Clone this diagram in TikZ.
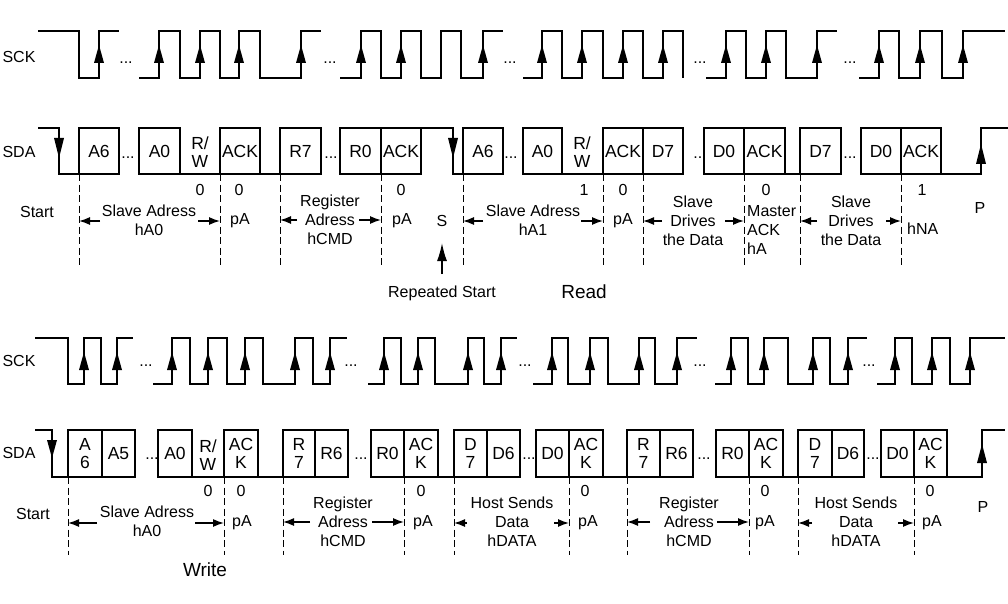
\documentclass[tikz,border=0pt]{standalone}
\usepackage{fontspec}
\setmainfont{Liberation Sans}
\usetikzlibrary{arrows.meta}
\newcommand\dbox[4]{%
  \draw[wave] (#2,\yt) rectangle (#3,\yb);
  \node[bt] (#1) at ({(#2+#3)/2},{(\yt+\yb)/2}) {#4};}
\begin{document}
\begin{tikzpicture}[x=1pt,y=-1pt,
  wave/.style={line width=2pt},
  dsh/.style={line width=1pt, dash pattern=on 7pt off 3.5pt},
  lab/.style={font=\fontsize{16}{19}\selectfont, inner sep=0pt, align=center},
  big/.style={font=\fontsize{19}{22}\selectfont, inner sep=0pt},
  bt/.style={font=\fontsize{17.5}{18.5}\selectfont, inner sep=0pt, align=center},
  dots/.style={font=\fontsize{16}{19}\selectfont, inner sep=0pt},
  dim/.style={-{Latex[length=11pt,width=8pt]}, line width=1.4pt},
]
\useasboundingbox (0,0) rectangle (1008,604);
\fill[white] (0,0) rectangle (1008,604);

% ================= TOP (Read) =================
\node[lab] (sck1) at (19,57) {SCK};
\node[lab] (sda1) at (19,152) {SDA};

% SCK top: H=31, L=78
\draw[wave] (38,31) -- (79,31) -- (79,78) -- (99,78) -- (99,31) -- (119,31);
\draw[wave] (139,78) -- (159,78) -- (159,31) -- (180,31) -- (180,78) -- (200,78) -- (200,31) -- (220,31) -- (220,78) -- (239,78) -- (239,31) -- (260,31) -- (260,78) -- (301,78) -- (301,31) -- (321,31);
\draw[wave] (340,78) -- (361,78) -- (361,31) -- (381,31) -- (381,78) -- (401,78) -- (401,31) -- (421,31) -- (421,78) -- (441,78) -- (441,31) -- (461,31) -- (461,78) -- (483,78) -- (483,31) -- (503,31);
\draw[wave] (523,78) -- (542,78) -- (542,31) -- (562,31) -- (562,78) -- (582,78) -- (582,31) -- (603,31) -- (603,78) -- (623,78) -- (623,31) -- (643,31) -- (643,78) -- (663,78) -- (663,31) -- (683,31) -- (683,78);
\draw[wave] (706,78) -- (726,78) -- (726,31) -- (746,31) -- (746,78) -- (766,78) -- (766,31) -- (786,31) -- (786,78) -- (817,78) -- (817,31) -- (837,31);
\draw[wave] (859,78) -- (879,78) -- (879,31) -- (899,31) -- (899,78) -- (920,78) -- (920,31) -- (942,31) -- (942,78) -- (963,78) -- (963,31) -- (1005,31);
\foreach \x in {99,159,200,239,301,361,401,483,542,582,623,663,726,766,817,879,920,963}
  \fill (\x,45) -- (\x-5,63) -- (\x+5,63) -- cycle;
\foreach \x/\n in {126/1,330/2,510/3,700/4,850/5}
  \node[dots] (tckd\n) at (\x,63) {...};

% SDA top: H=128, L=174
\def\yt{128}\def\yb{174}
\draw[wave] (38,128) -- (59,128) -- (59,174) -- (79,174);
\dbox{ta6}{79}{119}{A6}
\dbox{ta0}{139}{180}{A0}
\draw[wave] (180,174) -- (220,174);
\node[bt] (trw1) at (200,152) {R/\\W};
\dbox{tack1}{220}{260}{ACK}
\draw[wave] (260,174) -- (280,174);
\dbox{tr7}{280}{321}{R7}
\dbox{tr0}{340}{381}{R0}
\dbox{tack2}{381}{421}{ACK}
\draw[wave] (421,128) -- (453,128) -- (453,174) -- (463,174);
\dbox{ta6b}{463}{503}{A6}
\dbox{ta0b}{523}{562}{A0}
\draw[wave] (562,174) -- (603,174);
\node[bt] (trw2) at (582,152) {R/\\W};
\dbox{tack3}{603}{643}{ACK}
\dbox{td7}{643}{683}{D7}
\dbox{td0}{704}{744}{D0}
\dbox{tack4}{744}{785}{ACK}
\draw[wave] (785,174) -- (800,174);
\dbox{td7b}{800}{841}{D7}
\dbox{td0b}{861}{901}{D0}
\dbox{tack5}{901}{941}{ACK}
\draw[wave] (941,174) -- (981,174) -- (981,128) -- (1008,128);
\foreach \x in {59,453}
  \fill (\x,158) -- (\x-5,138) -- (\x+5,138) -- cycle;
\fill (981,144) -- (976,164) -- (986,164) -- cycle;
\foreach \x/\n in {128/1,331/2,511/3,700/4,850/5}
  \node[dots] (tdad\n) at (\x,158) {...};

\foreach \x in {79,220,280,381,463,603,643,744,800,901}
  \draw[dsh] (\x,174) -- (\x,267);

% top labels
\foreach \x/\t/\n in {200/0/1,239/0/2,401/0/3,584/1/4,623/0/5,766/0/6,922/1/7}
  \node[lab] (tb\n) at (\x,190) {\t};
\node[lab] (tstart) at (37,212) {Start};
\node[lab] (tsa1) at (149,220.5) {Slave Adress\\hA0};
\node[lab] (tpa1) at (240,221) {pA};
\node[lab] (treg) at (330,220) {Register\\Adress\\hCMD};
\node[lab] (tpa2) at (402,221) {pA};
\node[lab] (ts) at (442,221) {S};
\node[lab] (trep) at (442,293) {Repeated Start};
\coordinate (trepa) at (442,274);
\coordinate (trepb) at (442,243);
\draw[-{Latex[length=18pt,width=10pt]}, line width=1.5pt] (trepa) -- (trepb);
\node[big] (tread) at (584,292) {Read};
\node[lab] (tsa2) at (533,220.5) {Slave Adress\\hA1};
\node[lab] (tpa3) at (623,221) {pA};
\node[lab] (tsd1) at (693,221) {Slave\\Drives\\the Data};
\node[lab, anchor=west, align=left] (tmack) at (747,230) {Master\\ACK\\hA};
\node[lab] (tsd2) at (851,221) {Slave\\Drives\\the Data};
\node[lab, anchor=west] (thna) at (907,229) {hNA};
\node[lab] (tp) at (980,208) {P};

\draw[dim] (100,221) -- (79,221);
\draw[dim] (198,221) -- (220,221);
\draw[dim] (297,220) -- (280,220);
\draw[dim] (359,220) -- (381,220);
\draw[dim] (483,221) -- (463,221);
\draw[dim] (581,221) -- (603,221);
\draw[dim] (662,221) -- (643,221);
\draw[dim] (725,221) -- (744,221);
\draw[dim] (817,221) -- (800,221);
\draw[dim] (886,221) -- (901,221);

% ================= BOTTOM (Write) =================
\node[lab] (sck2) at (19,361) {SCK};
\node[lab] (sda2) at (19,453) {SDA};

% SCK bottom: H=338, L=384
\draw[wave] (35,338) -- (68,338) -- (68,384) -- (84,384) -- (84,338) -- (101,338) -- (101,384) -- (117,384) -- (117,338) -- (133,338);
\draw[wave] (153,384) -- (172,384) -- (172,338) -- (190,338) -- (190,384) -- (208,384) -- (208,338) -- (227,338) -- (227,384) -- (245,384) -- (245,338) -- (263,338) -- (263,384) -- (295,384) -- (295,338) -- (313,338) -- (313,384) -- (330,384) -- (330,338) -- (347,338);
\draw[wave] (368,384) -- (384,384) -- (384,338) -- (401,338) -- (401,384) -- (418,384) -- (418,338) -- (435,338) -- (435,384) -- (468,384) -- (468,338) -- (484,338) -- (484,384) -- (501,384) -- (501,338) -- (517,338);
\draw[wave] (533,384) -- (552,384) -- (552,338) -- (568,338) -- (568,384) -- (590,384) -- (590,338) -- (608,338) -- (608,384) -- (639,384) -- (639,338) -- (655,338) -- (655,384) -- (677,384) -- (677,338) -- (697,338);
\draw[wave] (715,384) -- (731,384) -- (731,338) -- (748,338) -- (748,384) -- (764,384) -- (764,338) -- (788,338) -- (788,384) -- (813,384) -- (813,338) -- (830,338) -- (830,384) -- (848,384) -- (848,338) -- (867,338);
\draw[wave] (877,384) -- (895,384) -- (895,338) -- (912,338) -- (912,384) -- (932,384) -- (932,338) -- (950,338) -- (950,384) -- (970,384) -- (970,338) -- (1005,338);
\foreach \x in {84,117,172,208,245,295,330,384,418,468,501,552,590,639,677,731,764,813,848,895,932,970}
  \fill (\x,352) -- (\x-5,370) -- (\x+5,370) -- cycle;
\foreach \x/\n in {146/1,351/2,525/3,700/4,869/5}
  \node[dots] (bckd\n) at (\x,366) {...};

% SDA bottom: H=430, L=477
\def\yt{430}\def\yb{477}
\draw[wave] (35,430) -- (52,430) -- (52,477) -- (68,477);
\dbox{ba6}{68}{102}{A\\6}
\dbox{ba5}{102}{135}{A5}
\dbox{ba0}{158}{192}{A0}
\draw[wave] (192,477) -- (224,477);
\node[bt] (brw) at (208,455) {R/\\W};
\dbox{back1}{224}{258}{AC\\K}
\draw[wave] (258,477) -- (283,477);
\dbox{br7}{283}{315}{R\\7}
\dbox{br6}{315}{348}{R6}
\dbox{br0}{371}{404}{R0}
\dbox{back2}{404}{438}{AC\\K}
\draw[wave] (438,477) -- (454,477);
\dbox{bd7}{454}{487}{D\\7}
\dbox{bd6}{487}{520}{D6}
\dbox{bd0}{536}{569}{D0}
\dbox{back3}{569}{603}{AC\\K}
\draw[wave] (603,477) -- (627,477);
\dbox{br7b}{627}{660}{R\\7}
\dbox{br6b}{660}{693}{R6}
\dbox{br0b}{716}{749}{R0}
\dbox{back4}{749}{783}{AC\\K}
\draw[wave] (783,477) -- (798,477);
\dbox{bd7b}{798}{832}{D\\7}
\dbox{bd6b}{832}{864}{D6}
\dbox{bd0b}{881}{914}{D0}
\dbox{back5}{914}{947}{AC\\K}
\draw[wave] (947,477) -- (982,477) -- (982,430) -- (1005,430);
\fill (52,458) -- (47,440) -- (57,440) -- cycle;
\fill (982,444) -- (977,463) -- (987,463) -- cycle;
\foreach \x/\n in {152/1,361/2,529/3,704/4,873/5}
  \node[dots] (bdad\n) at (\x,459) {...};

\foreach \x in {68,224,283,404,454,569,627,749,798,914}
  \draw[dsh] (\x,477) -- (\x,555);

% bottom labels
\foreach \x/\n in {208/1,241/2,421/3,585/4,765/5,930/6}
  \node[lab] (bb\n) at (\x,491) {0};
\node[lab] (bstart) at (33,514) {Start};
\node[lab] (bsa) at (147,521.5) {Slave Adress\\hA0};
\node[lab] (bpa1) at (242,523) {pA};
\node[big] (bwrite) at (205,570) {Write};
\node[lab] (breg1) at (343,522) {Register\\Adress\\hCMD};
\node[lab] (bpa2) at (423,523) {pA};
\node[lab] (bhs1) at (512,522) {Host Sends\\Data\\hDATA};
\node[lab] (bpa3) at (588,523) {pA};
\node[lab] (breg2) at (689,522) {Register\\Adress\\hCMD};
\node[lab] (bpa4) at (765,523) {pA};
\node[lab] (bhs2) at (856,522) {Host Sends\\Data\\hDATA};
\node[lab] (bpa5) at (932,523) {pA};
\node[lab] (bp) at (983,507) {P};

\draw[dim] (97,523) -- (68,523);
\draw[dim] (195,523) -- (224,523);
\draw[dim] (310,522) -- (283,522);
\draw[dim] (372,522) -- (404,522);
\draw[dim] (467,523) -- (454,523);
\draw[dim] (554,523) -- (569,523);
\draw[dim] (650,522) -- (627,522);
\draw[dim] (717,522) -- (749,522);
\draw[dim] (812,523) -- (798,523);
\draw[dim] (898,523) -- (914,523);
\end{tikzpicture}
\end{document}
